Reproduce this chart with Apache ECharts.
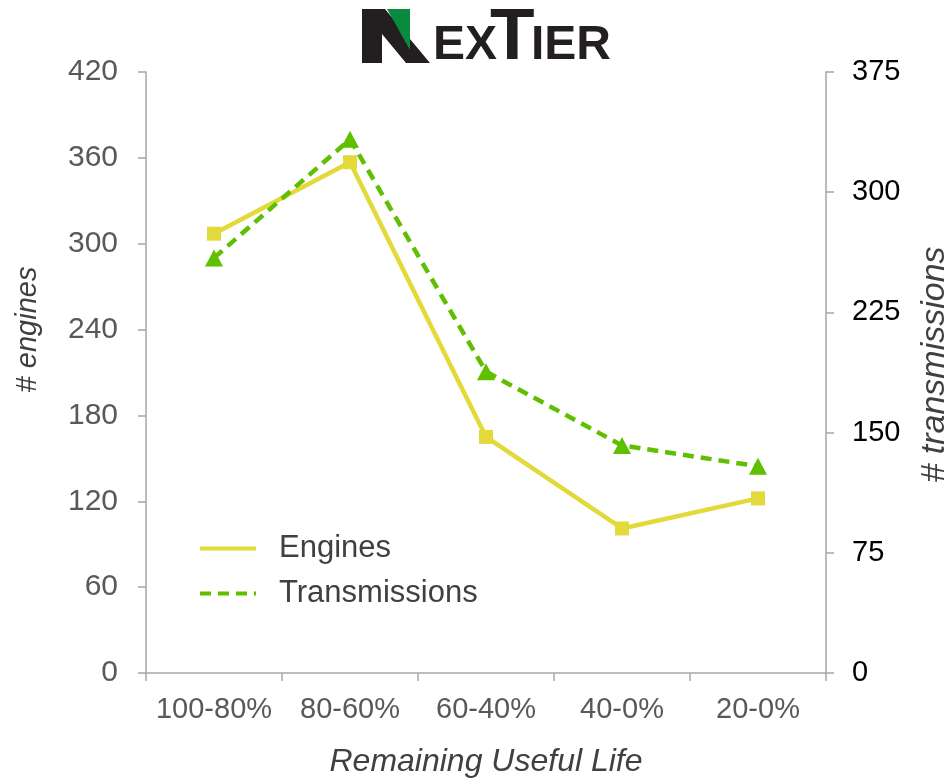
<!DOCTYPE html>
<html>
<head>
<meta charset="utf-8">
<style>
  html, body { margin: 0; padding: 0; background: #ffffff; }
  #chart { width: 947px; height: 778px; }
</style>
<script src="https://cdn.jsdelivr.net/npm/echarts@6/dist/echarts.min.js"></script>
</head>
<body>
<div id="chart"></div>
<script>
// Fleet component counts by remaining useful life bucket
const categories = ['100-80%', '80-60%', '60-40%', '40-0%', '20-0%'];
const engines = [307, 357, 165, 101, 122];
const transmissions = [259, 333, 188, 142, 129];
const engineTicks = { min: 0, max: 420, interval: 60 };
const transmissionTicks = { min: 0, max: 375, interval: 75 };

const chart = echarts.init(document.getElementById('chart'), null, { renderer: 'canvas' });

const font = '"Liberation Sans", Arial, sans-serif';
const axisGray = '#a6a6a6';
const dark = '#231f20';
const green = '#0a8a3e';

// Company wordmark above the plot
const logo = [
  { type: 'polygon', shape: { points: [[362, 9], [385, 9], [430, 63], [406, 63], [382, 34], [382, 63], [362, 63]] }, style: { fill: dark } },
  { type: 'polygon', shape: { points: [[387, 9], [410, 9], [410, 50]] }, style: { fill: green } },
  { type: 'text', left: 433, top: 22, style: { text: 'EX', font: 'bold 48px ' + font, fill: dark } },
  { type: 'text', left: 490, top: 2, style: { text: 'T', font: 'bold 73px ' + font, fill: dark } },
  { type: 'text', left: 531, top: 22, style: { text: 'IER', font: 'bold 48px ' + font, fill: dark } }
];

chart.setOption({
  animation: false,
  backgroundColor: '#ffffff',
  textStyle: { fontFamily: font },
  graphic: logo,
  grid: { left: 146, right: 121, top: 72, bottom: 105, containLabel: false, outerBoundsMode: 'none' },
  legend: {
    orient: 'vertical',
    left: 193,
    top: 528,
    itemWidth: 56,
    itemHeight: 14,
    itemGap: 14,
    itemStyle: { opacity: 0 },
    lineStyle: { width: 4 },
    textStyle: { fontSize: 31, color: '#404040', padding: [0, 0, 0, 18], fontFamily: font },
    data: ['Engines', 'Transmissions']
  },
  xAxis: {
    type: 'category',
    data: categories,
    boundaryGap: true,
    name: 'Remaining Useful Life',
    nameLocation: 'middle',
    nameGap: 73,
    nameTextStyle: { fontSize: 32, fontStyle: 'italic', color: '#404040', fontFamily: font },
    axisLine: { lineStyle: { color: axisGray, width: 1.5 } },
    axisTick: { show: true, interval: 0, length: 8, inside: false, lineStyle: { color: axisGray, width: 1.5 } },
    axisLabel: { interval: 0, fontSize: 29, color: '#595959', margin: 22, fontFamily: font },
    splitLine: { show: false }
  },
  yAxis: [
    {
      type: 'value',
      position: 'left',
      min: engineTicks.min,
      max: engineTicks.max,
      interval: engineTicks.interval,
      name: '# engines',
      nameLocation: 'middle',
      nameRotate: 90,
      nameGap: 104,
      nameTextStyle: { fontSize: 29, fontStyle: 'italic', color: '#404040', padding: [0, 0, 0, 86], fontFamily: font },
      axisLine: { show: true, lineStyle: { color: axisGray, width: 1.5 } },
      axisTick: { show: true, length: 8, lineStyle: { color: axisGray, width: 1.5 } },
      axisLabel: { fontSize: 30, color: '#595959', margin: 28, fontFamily: font },
      splitLine: { show: false }
    },
    {
      type: 'value',
      position: 'right',
      min: transmissionTicks.min,
      max: transmissionTicks.max,
      interval: transmissionTicks.interval,
      name: '# transmissions',
      nameLocation: 'middle',
      nameRotate: 90,
      nameGap: 92,
      nameTextStyle: { fontSize: 34, fontStyle: 'italic', color: '#404040', padding: [0, 0, 0, 16], fontFamily: font },
      axisLine: { show: true, lineStyle: { color: axisGray, width: 1.5 } },
      axisTick: { show: true, length: 8, lineStyle: { color: axisGray, width: 1.5 } },
      axisLabel: { fontSize: 29, color: '#000000', margin: 26, fontFamily: font },
      splitLine: { show: false }
    }
  ],
  series: [
    {
      name: 'Engines',
      type: 'line',
      yAxisIndex: 0,
      data: engines,
      symbol: 'rect',
      symbolSize: 14,
      color: '#e2d93a',
      lineStyle: { width: 4.5, color: '#e2d93a' },
      itemStyle: { color: '#e2d93a' },
      z: 2
    },
    {
      name: 'Transmissions',
      type: 'line',
      yAxisIndex: 1,
      data: transmissions,
      symbol: 'triangle',
      symbolSize: [18, 17],
      color: '#5fbf00',
      lineStyle: { width: 4.5, type: [11, 7], color: '#5fbf00' },
      itemStyle: { color: '#5fbf00' },
      z: 3
    }
  ]
});
</script>
</body>
</html>
